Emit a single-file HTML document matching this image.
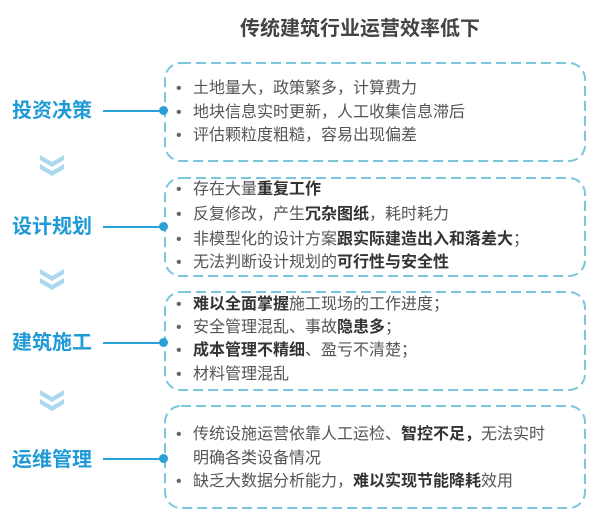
<!DOCTYPE html>
<html><head><meta charset="utf-8"><style>
body{margin:0;width:600px;height:527px;background:#fff;position:relative;overflow:hidden;font-family:"Liberation Sans","Noto Sans CJK SC",sans-serif;}
.t{position:absolute;left:0;width:720px;text-align:center;top:12px;font-size:20px;font-weight:bold;color:#444;}
.lab{position:absolute;left:12px;font-size:20px;font-weight:bold;color:#1f9ad6;line-height:24px;}
.ln{position:absolute;left:103px;width:60px;height:2px;background:#2aa0d8;}
.dot{position:absolute;left:159px;width:9px;height:9px;border-radius:50%;background:#2aa0d8;}
.li{position:absolute;left:193px;font-size:16px;color:#555;line-height:20px;white-space:nowrap;}
.li:before{content:"•";position:absolute;left:-17px;color:#666;}
.li.nb:before{content:"";}
b{color:#333;}
.chev{position:absolute;left:38px;}
svg.bx{position:absolute;left:0;top:0;}
</style></head><body>
<div class="t">传统建筑行业运营效率低下</div>

<svg class="bx" width="600" height="527">
<g fill="none" stroke="#7cc6dc" stroke-width="2" stroke-dasharray="10 5">
<rect x="165" y="63" width="420" height="98" rx="16"/>
<rect x="165" y="178" width="420" height="98" rx="16"/>
<rect x="165" y="292" width="420" height="98" rx="16"/>
<rect x="165" y="406" width="420" height="102" rx="16"/>
</g></svg>

<div class="lab" style="top:99px">投资决策</div><div class="ln" style="top:110px"></div><div class="dot" style="top:106px"></div>
<div class="lab" style="top:215px">设计规划</div><div class="ln" style="top:226px"></div><div class="dot" style="top:222px"></div>
<div class="lab" style="top:331px">建筑施工</div><div class="ln" style="top:342px"></div><div class="dot" style="top:338px"></div>
<div class="lab" style="top:448px">运维管理</div><div class="ln" style="top:458px"></div><div class="dot" style="top:454px"></div>

<svg class="chev" style="top:153px" width="30" height="26"><path d="M2 2 L14 9 L26 2 L26 7 L14 14 L2 7Z M2 11 L14 18 L26 11 L26 16 L14 23 L2 16Z" fill="#aad8ee"/></svg>
<svg class="chev" style="top:267px" width="30" height="26"><path d="M2 2 L14 9 L26 2 L26 7 L14 14 L2 7Z M2 11 L14 18 L26 11 L26 16 L14 23 L2 16Z" fill="#aad8ee"/></svg>
<svg class="chev" style="top:388px" width="30" height="26"><path d="M2 2 L14 9 L26 2 L26 7 L14 14 L2 7Z M2 11 L14 18 L26 11 L26 16 L14 23 L2 16Z" fill="#aad8ee"/></svg>

<div class="li" style="top:79px">土地量大，政策繁多，计算费力</div>
<div class="li" style="top:103px">地块信息实时更新，人工收集信息滞后</div>
<div class="li" style="top:126px">评估颗粒度粗糙，容易出现偏差</div>

<div class="li" style="top:180px">存在大量<b>重复工作</b></div>
<div class="li" style="top:205px">反复修改，产生<b>冗杂图纸</b>，耗时耗力</div>
<div class="li" style="top:230px">非模型化的设计方案<b>跟实际建造出入和落差大</b>；</div>
<div class="li" style="top:253px">无法判断设计规划的<b>可行性与安全性</b></div>

<div class="li" style="top:295px"><b>难以全面掌握</b>施工现场的工作进度；</div>
<div class="li" style="top:318px">安全管理混乱、事故<b>隐患多</b>；</div>
<div class="li" style="top:341px"><b>成本管理不精细</b>、盈亏不清楚；</div>
<div class="li" style="top:365px">材料管理混乱</div>

<div class="li" style="top:425px">传统设施运营依靠人工运检、<b>智控不足，</b>无法实时</div>
<div class="li nb" style="top:449px">明确各类设备情况</div>
<div class="li" style="top:472px">缺乏大数据分析能力，<b>难以实现节能降耗</b>效用</div>
</body></html>
